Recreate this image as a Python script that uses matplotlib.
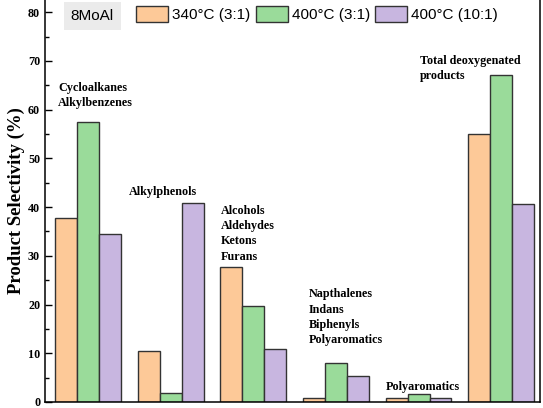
import matplotlib.pyplot as plt
import numpy as np

groups = ["Cycloalkanes\nAlkylbenzenes", "Alkylphenols",
          "Alcohols\nAldehydes\nKetons\nFurans",
          "Napthalenes\nIndans\nBiphenyls\nPolyaromatics",
          "Polyaromatics", "Total deoxygenated\nproducts"]
series = ["340\u00b0C (3:1)", "400\u00b0C (3:1)", "400\u00b0C (10:1)"]
s340_31 = [37.7, 10.4, 27.8, 0.9, 0.75, 55.1]
s400_31 = [57.4, 1.9, 19.8, 8.0, 1.7, 67.1]
s400_101 = [34.4, 40.8, 10.8, 5.4, 0.8, 40.7]
catalyst = "8MoAl"

colors = ["#FDC998", "#9ADB9A", "#C8B6E0"]
# label anchor (left, top) in data units
label_pos = [(-0.36, 65.6), (0.5, 44.3), (1.61, 40.4),
             (2.67, 23.3), (3.6, 4.3), (4.015, 71.3)]

serif = ["Liberation Serif", "DejaVu Serif"]

fig = plt.figure(figsize=(5.43, 4.08), dpi=100)
ax = fig.add_axes([45 / 543, 6 / 408, 495 / 543, 402 / 408])

x = np.arange(len(groups))
w = 0.266
for i, vals in enumerate([s340_31, s400_31, s400_101]):
    ax.bar(x + (i - 1) * w, vals, w, color=colors[i], edgecolor="#333333",
           linewidth=1.0, label=series[i])

for txt, (px, py) in zip(groups, label_pos):
    ax.text(px, py, txt, ha="left", va="top", fontsize=8.7, fontweight="bold",
            family=serif, linespacing=1.35)

ax.set_xlim(-0.52, 5.47)
ax.set_ylim(0, 82.5)
ax.set_xticks([])
ax.set_yticks(np.arange(0, 81, 10))
ax.set_yticks(np.arange(5, 80, 10), minor=True)
ax.tick_params(axis="y", which="major", direction="in", length=5, width=1)
ax.tick_params(axis="y", which="minor", direction="in", length=3, width=1)
for lab in ax.get_yticklabels():
    lab.set_fontfamily(serif)
    lab.set_fontweight("bold")
    lab.set_fontsize(8.7)
ax.spines["top"].set_visible(False)
for sp in ["left", "right", "bottom"]:
    ax.spines[sp].set_linewidth(1.1)

ax.set_ylabel("Product Selectivity (%)", fontsize=13.5, fontweight="bold",
              family=serif, labelpad=2)

ax.text(0.052, 0.978, catalyst, transform=ax.transAxes, ha="left", va="top",
        fontsize=11, family=["Liberation Sans", "DejaVu Sans"],
        bbox=dict(boxstyle="square,pad=0.45", facecolor="#ebebeb",
                  edgecolor="none"))

leg = ax.legend(loc="upper left", bbox_to_anchor=(0.172, 1.0), ncol=3,
                frameon=False, handlelength=2.1, handleheight=1.25,
                handletextpad=0.25, columnspacing=0.35, borderaxespad=0,
                prop={"family": ["Liberation Sans", "DejaVu Sans"], "size": 11})

fig.savefig("out.png", dpi=100)
